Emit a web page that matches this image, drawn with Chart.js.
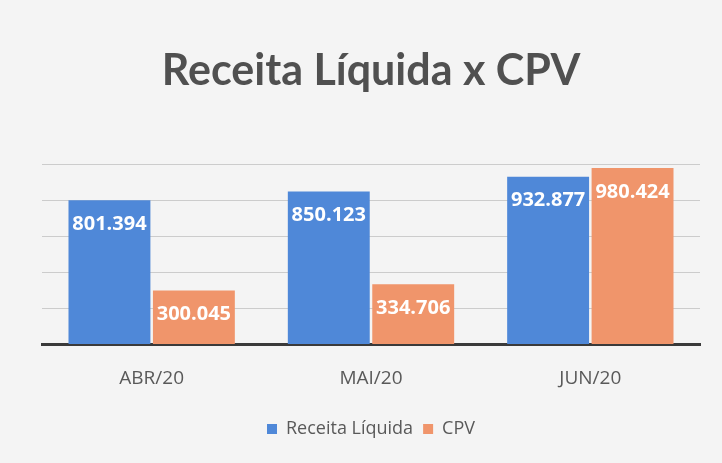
<!DOCTYPE html>
<html>
<head>
<meta charset="utf-8">
<script src="https://cdn.jsdelivr.net/npm/chart.js@4/dist/chart.umd.min.js"></script>
<style>
  html, body { margin: 0; padding: 0; background: #ececec; }
  #wrap { width: 722px; height: 463px; }
</style>
</head>
<body>
<div id="wrap"><canvas id="graph" width="722" height="463"></canvas></div>
<script>
const months = ["ABR/20", "MAI/20", "JUN/20"];
const receita = [801394, 850123, 932877];
const cpv = [300045, 334706, 980424];

const fmt = new Intl.NumberFormat("pt-BR");

// fundo e rótulos dentro das barras
const bgPlugin = {
  id: "bg",
  beforeDraw(chart) {
    const ctx = chart.ctx;
    ctx.save();
    ctx.fillStyle = "#f4f4f4";
    ctx.fillRect(0, 0, chart.width, chart.height);
    ctx.restore();
  },
};

const labelPlugin = {
  id: "barLabels",
  afterDatasetsDraw(chart) {
    const ctx = chart.ctx;
    ctx.save();
    ctx.font = "bold 20px 'Open Sans'";
    ctx.fillStyle = "#ffffff";
    ctx.textAlign = "center";
    ctx.textBaseline = "middle";
    chart.data.datasets.forEach((ds, i) => {
      chart.getDatasetMeta(i).data.forEach((bar, j) => {
        ctx.fillText(fmt.format(ds.data[j]), bar.x, bar.y + 24);
      });
    });
    ctx.restore();
  },
};

const chart = new Chart(document.getElementById("graph"), {
  type: "bar",
  data: {
    labels: months,
    datasets: [
      { label: "Receita Líquida", data: receita, backgroundColor: "#4f88d8" },
      { label: "CPV", data: cpv, backgroundColor: "#f0956b" },
    ],
  },
  options: {
    responsive: false,
    animation: false,
    layout: { padding: { top: 5, left: 42, right: 22, bottom: 15 } },
    datasets: { bar: { categoryPercentage: 0.77, barPercentage: 0.97 } },
    plugins: {
      title: {
        display: true,
        text: "Receita Líquida x CPV",
        color: "#505050",
        font: { family: "Lato", size: 43, weight: "bold" },
        padding: { top: 40, bottom: 68 },
      },
      legend: {
        position: "bottom",
        labels: {
          color: "#595959",
          font: { family: "Open Sans", size: 18 },
          boxWidth: 10,
          boxHeight: 10,
          padding: 10,
        },
      },
      tooltip: { enabled: false },
    },
    scales: {
      x: {
        grid: { display: false },
        border: { display: true, color: "#3a3a3a", width: 3 },
        ticks: { color: "#595959", font: { family: "Open Sans", size: 19 }, padding: 15 },
        title: { display: true, text: "", font: { size: 4 }, padding: 0 },
      },
      y: {
        min: 0,
        max: 1000000,
        ticks: { display: false, stepSize: 200000 },
        grid: { color: "#cccccc", drawTicks: false },
        border: { display: false },
      },
    },
  },
  plugins: [bgPlugin, labelPlugin],
});
</script>
</body>
</html>
